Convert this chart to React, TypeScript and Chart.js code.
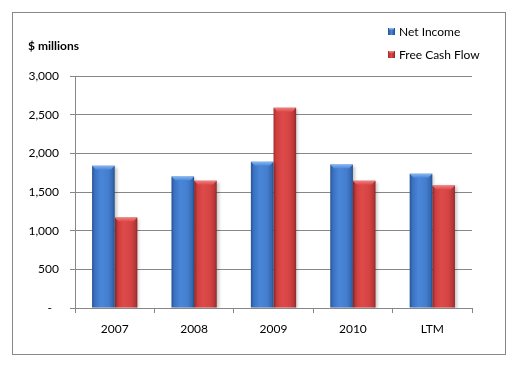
import React, { useEffect, useRef } from "react";
import { Chart, registerables } from "chart.js";

Chart.register(...registerables);

const categories = ["2007", "2008", "2009", "2010", "LTM"];
const netIncome = [1840, 1700, 1890, 1855, 1735];
const freeCashFlow = [1170, 1645, 2590, 1645, 1585];
const seriesNames = ["Net Income", "Free Cash Flow"];
const yTicks = [0, 500, 1000, 1500, 2000, 2500, 3000];
const unitTitle = "$ millions";

const FONT = "Lato, 'Open Sans', sans-serif";
const FSIZE = 12;
const GRID = "#878787";
const CAT_PCT = 0.57;

const palettes = [
  { stops: ["#27528f", "#3a71c2", "#4a86d8", "#447ece", "#3468b0", "#244b84"], top: "#86b6f0", legend: "#3d74bf" },
  { stops: ["#a52d2d", "#cf3d3d", "#de4a4a", "#d44343", "#b53535", "#8a2626"], top: "#f08080", legend: "#c83a3a" },
];
const stopPos = [0, 0.12, 0.4, 0.72, 0.92, 1];

function barFill(ctx: any) {
  const chart = ctx.chart;
  const ds = ctx.datasetIndex;
  const pal = palettes[ds];
  const xs = chart.scales && chart.scales.x;
  if (!xs || !chart.chartArea || ctx.dataIndex === undefined) return pal.legend;
  const catW = xs.width / categories.length;
  const barW = (catW * CAT_PCT) / 2;
  const center = xs.getPixelForValue(ctx.dataIndex);
  const left = center - barW + ds * barW;
  const g = chart.ctx.createLinearGradient(left, 0, left + barW, 0);
  pal.stops.forEach((c: string, i: number) => g.addColorStop(stopPos[i], c));
  return g;
}

const decoPlugin = {
  id: "deco",
  beforeDatasetsDraw(chart: any) {
    const c = chart.ctx;
    c.save();
    c.shadowColor = "rgba(0,0,0,0.22)";
    c.shadowBlur = 3;
    c.shadowOffsetX = 2;
    c.shadowOffsetY = 1;
  },
  afterDatasetsDraw(chart: any) {
    const c = chart.ctx;
    c.restore();
    c.save();
    chart.data.datasets.forEach((d: any, di: number) => {
      const meta = chart.getDatasetMeta(di);
      const pal = palettes[di];
      meta.data.forEach((el: any) => {
        const l = el.x - el.width / 2;
        const r = el.x + el.width / 2;
        const t = el.y;
        const h = 4;
        const g = c.createLinearGradient(0, t, 0, t + h);
        g.addColorStop(0, pal.top);
        g.addColorStop(1, pal.stops[2]);
        c.fillStyle = g;
        c.beginPath();
        c.moveTo(l, t);
        c.lineTo(r, t);
        c.lineTo(r - h, t + h);
        c.lineTo(l + h, t + h);
        c.closePath();
        c.fill();
      });
    });
    c.restore();
  },
  afterDraw(chart: any) {
    const c = chart.ctx;
    c.save();
    c.fillStyle = "#000";
    c.textBaseline = "middle";
    c.textAlign = "left";
    c.font = `bold ${FSIZE}px ${FONT}`;
    c.fillText(unitTitle, 28, 46);
    c.font = `${FSIZE}px ${FONT}`;
    chart.data.datasets.forEach((d: any, i: number) => {
      const y = 32 + i * 23;
      const pal = palettes[i];
      const g = c.createLinearGradient(388, 0, 395, 0);
      g.addColorStop(0, pal.stops[0]);
      g.addColorStop(0.5, pal.stops[2]);
      g.addColorStop(1, pal.stops[5]);
      c.fillStyle = g;
      c.fillRect(388, y - 4, 7, 7);
      c.fillStyle = pal.top;
      c.fillRect(389, y - 4, 5, 1.5);
      c.fillStyle = "#000";
      c.fillText(d.label, 399, y);
    });
    c.restore();
  },
};

export default function App() {
  const ref = useRef<HTMLCanvasElement>(null);
  useEffect(() => {
    if (!ref.current) return;
    const chart = new Chart(ref.current, {
      type: "bar",
      data: {
        labels: categories,
        datasets: [
          { label: seriesNames[0], data: netIncome, backgroundColor: barFill, borderWidth: 0 },
          { label: seriesNames[1], data: freeCashFlow, backgroundColor: barFill, borderWidth: 0 },
        ],
      },
      plugins: [decoPlugin],
      options: {
        animation: false,
        responsive: true,
        maintainAspectRatio: false,
        layout: { padding: { left: 0, top: 76, right: 55, bottom: 0 } },
        datasets: { bar: { categoryPercentage: CAT_PCT, barPercentage: 1 } },
        plugins: { legend: { display: false }, tooltip: { enabled: false }, title: { display: false } },
        scales: {
          x: {
            offset: true,
            grid: { display: true, offset: true, drawOnChartArea: false, drawTicks: true, tickLength: 5, color: GRID },
            border: { display: true, color: GRID },
            ticks: { color: "#000", font: { family: FONT, size: FSIZE }, padding: 9 },
            afterFit: (s: any) => { s.height = 62; },
          },
          y: {
            min: 0,
            max: 3000,
            afterBuildTicks: (s: any) => { s.ticks = yTicks.map((v) => ({ value: v })); },
            grid: { color: GRID, tickLength: 5, drawTicks: true },
            border: { display: true, color: GRID },
            ticks: {
              color: "#000",
              font: { family: FONT, size: FSIZE },
              padding: 11,
              callback: (v: any) => (Number(v) === 0 ? "-\u2007" : Number(v).toLocaleString("en-US")),
            },
            afterFit: (s: any) => { s.width = 75; },
          },
        },
      },
    });
    return () => chart.destroy();
  }, []);
  return (
    <div style={{ position: "fixed", left: 0, top: 0, width: 527, height: 370, background: "#fff" }}>
      <div style={{ position: "absolute", left: 12, top: 12, width: 494, height: 343, border: "1px solid #888", boxSizing: "border-box" }} />
      <canvas ref={ref} style={{ position: "absolute", left: 0, top: 0, width: 527, height: 370 }} />
    </div>
  );
}
